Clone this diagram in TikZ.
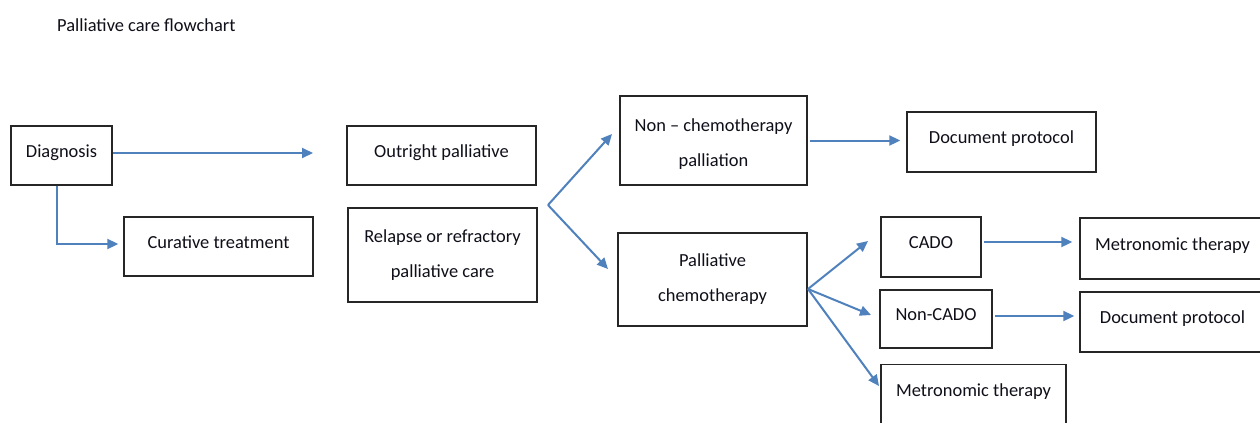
\documentclass[tikz,border=0pt]{standalone}
\usepackage{fontspec}
\setmainfont{Carlito}
\usetikzlibrary{arrows.meta}
\definecolor{flowblue}{RGB}{79,129,189}
\definecolor{inkdark}{RGB}{15,15,25}
\tikzset{
  box/.style={draw=black!85, line width=1.4bp, fill=white, rectangle,
    align=center, text=inkdark, inner sep=2bp,
    font=\fontsize{18.5}{35}\selectfont},
  oneline/.style={box, text depth=9bp},
  flow/.style={draw=flowblue, line width=2bp,
    -{Triangle[length=11bp,width=10bp]}},
}
\begin{document}
\begin{tikzpicture}[x=1bp,y=-1bp]
\useasboundingbox (0,0) rectangle (1260,422);
\clip (0,0) rectangle (1260,422);
\fill[white] (0,0) rectangle (1260,422);

% title
\node[anchor=base west, inner sep=0, text=inkdark,
      font=\fontsize{18.5}{22}\selectfont] (title) at (57,31) {Palliative care flowchart};

% boxes
\node[oneline, minimum width=101bp, minimum height=59bp] (diag) at (61.5,155.5) {Diagnosis};
\node[oneline, minimum width=189bp, minimum height=59bp] (cur)  at (218.5,246.5) {Curative treatment};
\node[oneline, minimum width=189bp, minimum height=59bp] (out)  at (441.5,155.5) {Outright palliative};
\node[box, minimum width=189bp, minimum height=94bp] (rel)  at (442.5,255) {Relapse or refractory\\palliative care};
\node[box, minimum width=187bp, minimum height=89bp] (nc)   at (713.5,140.5) {\rule{0pt}{20bp}Non -- chemotherapy\\palliation};
\node[oneline, minimum width=189bp, minimum height=60bp] (dpa)  at (1001.5,142) {Document protocol};
\node[box, minimum width=189bp, minimum height=93bp] (pc)   at (712.5,279.5) {Palliative\\chemotherapy};
\node[oneline, minimum width=100bp, minimum height=60bp] (cado) at (931,247) {CADO};
\node[oneline, minimum width=112bp, minimum height=58bp] (ncado) at (936,319) {Non-CADO};
\node[box, anchor=north, minimum width=185bp, inner ysep=19bp,
      text height=13bp, text depth=60bp] (mtb) at (973.5,364) {Metronomic therapy};
\node[oneline, minimum width=185bp, minimum height=61bp] (mta)  at (1172.5,248.5) {Metronomic therapy};
\node[oneline, minimum width=185bp, minimum height=60bp] (dpb)  at (1172.5,322) {Document protocol};

% free ends and branch points
\coordinate (outend) at (313,153);
\coordinate (relfork) at (548,205);
\coordinate (toNC) at (612,134);
\coordinate (toPC) at (608,269);
\coordinate (pcfork) at (808,289);
\coordinate (toCADO) at (868,241);
\coordinate (toNCADO) at (871,315);
\coordinate (toMTB) at (879,386);

% connectors
\draw[flow] (diag.east |- outend) -- (outend);
\draw[flow] ([xshift=-4.5bp]diag.south) |- ([xshift=-5bp,yshift=2.5bp]cur.west);
\draw[flow] (relfork) -- (toNC);
\draw[flow] (relfork) -- (toPC);
\draw[flow, shorten <=2bp, shorten >=6bp] (nc.east) -- (nc.east -| dpa.west);
\draw[flow] (pcfork) -- (toCADO);
\draw[flow] (pcfork) -- (toNCADO);
\draw[flow] (pcfork) -- (toMTB);
\draw[flow, shorten <=2bp, shorten >=7bp] ([yshift=5bp]cado.east) -- ([yshift=5bp]cado.east -| mta.west);
\draw[flow, shorten <=2bp, shorten >=5bp] ([yshift=3bp]ncado.east) -- ([yshift=3bp]ncado.east -| dpb.west);
\end{tikzpicture}
\end{document}
